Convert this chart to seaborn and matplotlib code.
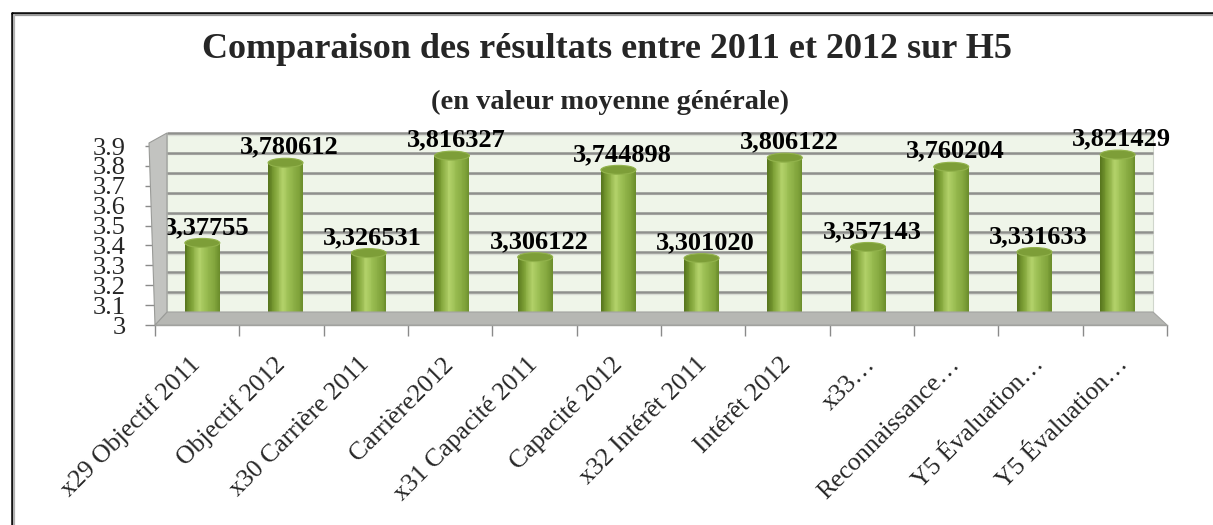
import numpy as np
import pandas as pd
import matplotlib
matplotlib.use("Agg")
import matplotlib.pyplot as plt
import seaborn as sns
from matplotlib.transforms import Affine2D, ScaledTranslation, blended_transform_factory
from matplotlib.patches import Rectangle, Ellipse, Polygon
from matplotlib.lines import Line2D
from matplotlib.colors import LinearSegmentedColormap

# ---------------- data ----------------
categories = ["x29 Objectif 2011", "Objectif 2012", "x30 Carrière 2011", "Carrière2012",
              "x31 Capacité 2011", "Capacité 2012", "x32 Intérêt 2011", "Intérêt 2012",
              "x33 Reconnaissance 2011", "Reconnaissance 2012",
              "Y5 Évaluation 2011", "Y5 Évaluation 2012"]
tick_labels = ["x29 Objectif 2011", "Objectif 2012", "x30 Carrière 2011", "Carrière2012",
               "x31 Capacité 2011", "Capacité 2012", "x32 Intérêt 2011", "Intérêt 2012",
               "x33…", "Reconnaissance…", "Y5 Évaluation…", "Y5 Évaluation…"]
values = [3.37755, 3.780612, 3.326531, 3.816327, 3.306122, 3.744898,
          3.301020, 3.806122, 3.357143, 3.760204, 3.331633, 3.821429]
value_labels = ["3,37755", "3,780612", "3,326531", "3,816327", "3,306122", "3,744898",
                "3,301020", "3,806122", "3,357143", "3,760204", "3,331633", "3,821429"]
y_ticks = [3.0, 3.1, 3.2, 3.3, 3.4, 3.5, 3.6, 3.7, 3.8, 3.9]
y_tick_labels = ["3", "3.1", "3.2", "3.3", "3.4", "3.5", "3.6", "3.7", "3.8", "3.9"]
title = "Comparaison des résultats entre 2011 et 2012 sur H5"
subtitle = "(en valeur moyenne générale)"

# ---------------- style ----------------
sns.set_theme(style="white")
plt.rcParams["font.family"] = ["Liberation Serif", "DejaVu Serif"]

DPI = 100
W, H = 1213, 525
fig = plt.figure(figsize=(W / DPI, H / DPI), dpi=DPI)
fig.patch.set_facecolor("white")

# axes box (front plane): x 155..1167 px, y 146..325 px (from top)
ax = fig.add_axes([155 / W, (H - 325) / H, 1012 / W, 179 / H])
ax.set_facecolor("none")

df = pd.DataFrame({"cat": categories, "val": values})
sns.barplot(data=df, x="cat", y="val", order=categories, color="#8db046",
            width=0.42, errorbar=None, ax=ax)
ax.set_ylim(3.0, 3.9)
ax.set_xlim(-0.5, len(categories) - 0.5)

px = 1.0 / DPI
depth_back = ScaledTranslation(12 * px, 13 * px, fig.dpi_scale_trans)

# back wall, left wall, floor (decoration)
r_back = 0.9743
wall = Rectangle((0, 0), r_back, 1, transform=ax.transAxes + depth_back,
                 facecolor="#eff5e9", edgecolor="#d0d6cc", lw=0.8, zorder=0.5, clip_on=False)
ax.add_patch(wall)

def ax_to_px(x, y, back=False):
    t = ax.transAxes + depth_back if back else ax.transAxes
    return t.transform((x, y))

fig.canvas.draw()
fl = ax_to_px(0, 0); fr = ax_to_px(1, 0)
bl = ax_to_px(0, 0, True); br = ax_to_px(r_back, 0, True)
tl = ax_to_px(0, 1); btl = ax_to_px(0, 1, True)
tl = (tl[0] - 6, tl[1] + 3)
floor = Polygon([fl, fr, br, bl], closed=True, transform=None,
                facecolor="#b6b7b3", edgecolor="#a2a3a0", lw=0.8, zorder=0.6)
fig.add_artist(floor)
leftwall = Polygon([fl, bl, btl, tl], closed=True, transform=None,
                   facecolor="#c2c3c0", edgecolor="#9a9b98", lw=0.8, zorder=0.6)
fig.add_artist(leftwall)

# grid lines on back wall
grid_t = blended_transform_factory(ax.transAxes, ax.transData) + depth_back
for yv in y_ticks[1:]:
    ax.plot([0, r_back], [yv, yv], transform=grid_t, color="#8f908d", lw=1.8,
            zorder=0.7, clip_on=False, solid_capstyle="butt")
    ax.plot([0, r_back], [yv, yv], transform=grid_t + ScaledTranslation(0, -1.6 * px, fig.dpi_scale_trans),
            color="#d9dcd5", lw=1.0, zorder=0.69, clip_on=False, solid_capstyle="butt")

# ---------------- cylinders ----------------
bx0 = ax.transData.transform((0, 3))[0]
bx1 = ax.transData.transform((len(categories) - 1, 3))[0]
sx = 0.9867
cx = (bx0 + bx1) / 2
bar_t = ax.transData + Affine2D().translate(-cx, 0).scale(sx, 1).translate(cx - 1, 7)

cyl = LinearSegmentedColormap.from_list(
    "cyl", [(0.0, "#55741c"), (0.18, "#7c9f35"), (0.42, "#b3d26a"),
            (0.62, "#98bb50"), (0.88, "#7fa23a"), (1.0, "#6a8c2a")])
ybase = 3.0
ell_h = 9.0 / 199.0
nstrip = 40
for p in list(ax.patches):
    if not isinstance(p, Rectangle) or p is wall:
        continue
    x0, w, h = p.get_x(), p.get_width(), p.get_height()
    if h < ybase:
        continue
    p.set_visible(False)
    xc = x0 + w / 2
    ax.add_patch(Ellipse((xc, ybase), w, ell_h, transform=bar_t, facecolor="#6f9130",
                         edgecolor="none", zorder=2, clip_on=False))
    for i in range(nstrip):
        ax.add_patch(Rectangle((x0 + i * w / nstrip, ybase), w / nstrip * 1.02, h - ybase,
                               transform=bar_t, facecolor=cyl((i + 0.5) / nstrip),
                               edgecolor="none", lw=0, zorder=3, clip_on=False))
    ax.add_patch(Ellipse((xc, h), w, ell_h, transform=bar_t, facecolor="#7d9e38",
                         edgecolor="#92b34c", lw=0.8, zorder=4, clip_on=False))

# value labels
lab_t = bar_t + ScaledTranslation(4 * px, 4 * px, fig.dpi_scale_trans)
for i, (v, s) in enumerate(zip(values, value_labels)):
    ax.text(i, v, s, transform=lab_t, ha="center", va="bottom", fontsize=19,
            fontweight="bold", color="black", zorder=6, clip_on=False)

# ---------------- axes / ticks ----------------
for side in ["top", "right", "left"]:
    ax.spines[side].set_visible(False)
ax.spines["bottom"].set_color("#a0a19e")
ax.spines["bottom"].set_linewidth(1.0)
ax.set_yticks(y_ticks)
ax.set_yticklabels(y_tick_labels)
ax.tick_params(axis="y", length=7, width=1, color="#8a8a8a", pad=14, labelsize=19,
               left=True, direction="out")
ax.set_xticks(range(len(categories)))
ax.set_xticklabels(tick_labels, rotation=45, ha="right", va="center", rotation_mode="anchor")
ax.set_xticks(np.arange(-0.5, len(categories), 1.0), minor=True)
ax.tick_params(axis="x", which="major", length=0, pad=26, labelsize=18.5)
ax.tick_params(axis="x", which="minor", length=8, width=1, color="#8a8a8a", bottom=True)
ax.set_xlabel("")
ax.set_ylabel("")
ax.grid(False)

# ---------------- titles ----------------
fig.text(607 / W, 1 - 50 / H, title, ha="center", va="center", fontsize=26, fontweight="bold")
fig.text(610 / W, 1 - 102 / H, subtitle, ha="center", va="center", fontsize=20.5, fontweight="bold")

# ---------------- outer frame (top and left only visible) ----------------
yt = 1 - 12.5 / H
xl = 11.5 / W
fig.add_artist(Line2D([xl, 1.0], [yt, yt], transform=fig.transFigure, color="black", lw=1.8))
fig.add_artist(Line2D([xl, xl], [0, yt], transform=fig.transFigure, color="black", lw=1.8))
fig.add_artist(Line2D([xl + 2.5 / W, 1.0], [yt - 2.2 / H, yt - 2.2 / H], transform=fig.transFigure,
                      color="#9a9a9a", lw=1.6))
fig.add_artist(Line2D([xl + 2.5 / W, xl + 2.5 / W], [0, yt - 2.2 / H], transform=fig.transFigure,
                      color="#b0b0b0", lw=1.6))

fig.savefig("out.png", dpi=DPI)
